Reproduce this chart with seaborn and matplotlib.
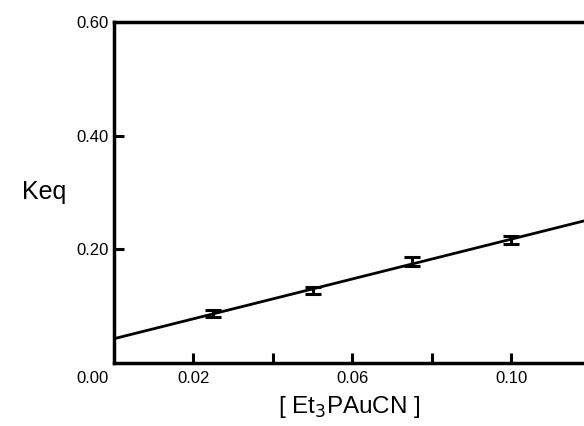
import numpy as np
import seaborn as sns
import matplotlib.pyplot as plt

# data
conc = [0.025, 0.050, 0.075, 0.100]
keq = [0.087, 0.1275, 0.1785, 0.216]
keq_err = [0.006, 0.006, 0.008, 0.007]

x_ticks = [0.02, 0.04, 0.06, 0.08, 0.10]
x_ticklabels = ['0.02', '', '0.06', '', '0.10']
y_ticks = [0.20, 0.40, 0.60]
y_ticklabels = ['0.20', '0.40', '0.60']

sns.set_style('ticks', {'axes.edgecolor': 'black', 'text.color': 'black',
                        'xtick.color': 'black', 'ytick.color': 'black',
                        'axes.labelcolor': 'black'})
plt.rcParams['font.family'] = ['Liberation Sans', 'DejaVu Sans']

fig = plt.figure(figsize=(5.84, 4.26), dpi=100)
ax = fig.add_axes([114 / 584, 63 / 426, 470 / 584, 341 / 426])

# least squares line through the points
slope, icpt = np.polyfit(conc, keq, 1)
xmax = 0.1183
fit_x = [0.0, xmax]
fit_y = [icpt + slope * v for v in fit_x]
sns.lineplot(x=fit_x, y=fit_y, ax=ax, color='black', linewidth=2)

ax.errorbar(conc, keq, yerr=keq_err, fmt='none', ecolor='black',
            elinewidth=2.2, capsize=6, capthick=2.2)

ax.set_xlim(0, xmax)
ax.set_ylim(0, 0.60)
ax.set_xticks(x_ticks)
ax.set_xticklabels(x_ticklabels, fontsize=12)
ax.set_yticks(y_ticks)
ax.set_yticklabels(y_ticklabels, fontsize=12)
ax.tick_params(direction='in', length=7, width=2.2)
ax.tick_params(axis='y', pad=4)
ax.tick_params(axis='x', pad=6)

for side in ['left', 'bottom', 'top']:
    ax.spines[side].set_linewidth(2.5)
ax.spines['right'].set_visible(False)

ax.text(-0.0055, -0.027, '0.00', transform=ax.transData, fontsize=12,
        ha='center', va='center')

ax.set_ylabel('Keq', fontsize=18, rotation=0, labelpad=23, va='center')
ax.set_xlabel('[ Et$_3$PAuCN ]', fontsize=17.5, labelpad=5.5)

plt.savefig('out.png', dpi=100)
